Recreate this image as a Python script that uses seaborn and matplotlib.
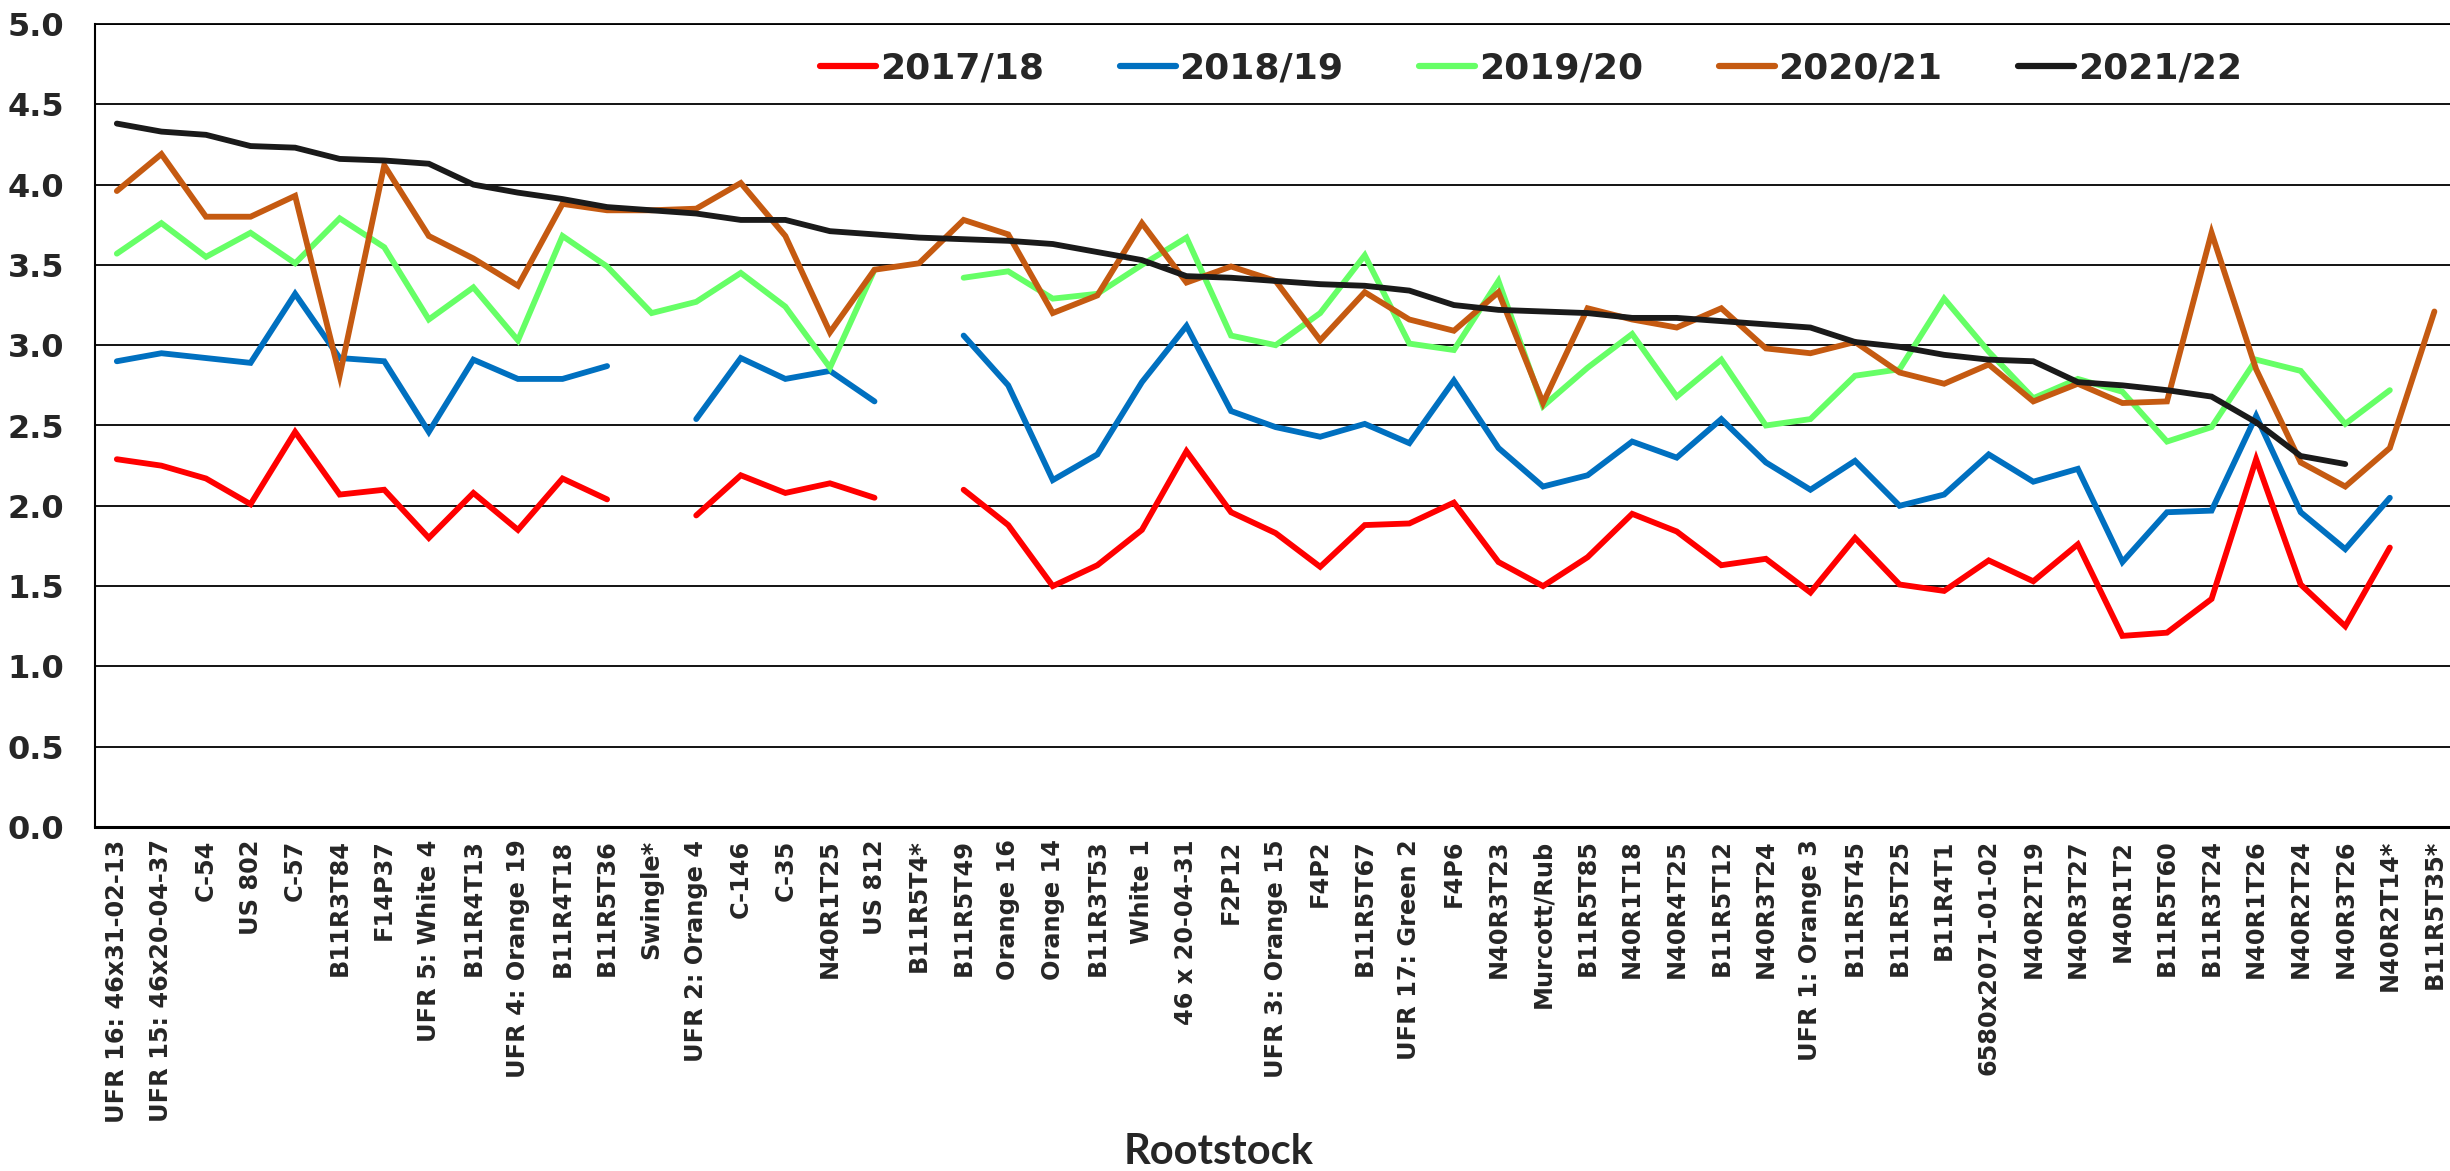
import numpy as np
import pandas as pd
import matplotlib
matplotlib.use("Agg")
import matplotlib.pyplot as plt
import seaborn as sns

nan = np.nan

rootstocks = [
    "UFR 16: 46x31-02-13", "UFR 15: 46x20-04-37", "C-54", "US 802", "C-57",
    "B11R3T84", "F14P37", "UFR 5: White 4", "B11R4T13", "UFR 4: Orange 19",
    "B11R4T18", "B11R5T36", "Swingle*", "UFR 2: Orange 4", "C-146", "C-35",
    "N40R1T25", "US 812", "B11R5T4*", "B11R5T49", "Orange 16", "Orange 14",
    "B11R3T53", "White 1", "46 x 20-04-31", "F2P12", "UFR 3: Orange 15", "F4P2",
    "B11R5T67", "UFR 17: Green 2", "F4P6", "N40R3T23", "Murcott/Rub", "B11R5T85",
    "N40R1T18", "N40R4T25", "B11R5T12", "N40R3T24", "UFR 1: Orange 3", "B11R5T45",
    "B11R5T25", "B11R4T1", "6580x2071-01-02", "N40R2T19", "N40R3T27", "N40R1T2",
    "B11R5T60", "B11R3T24", "N40R1T26", "N40R2T24", "N40R3T26", "N40R2T14*",
    "B11R5T35*",
]

s2017_18 = [2.29, 2.25, 2.17, 2.01, 2.46, 2.07, 2.10, 1.80, 2.08, 1.85,
            2.17, 2.04, nan, 1.94, 2.19, 2.08, 2.14, 2.05, nan, 2.10,
            1.88, 1.50, 1.63, 1.85, 2.34, 1.96, 1.83, 1.62, 1.88, 1.89,
            2.02, 1.65, 1.50, 1.68, 1.95, 1.84, 1.63, 1.67, 1.46, 1.80,
            1.51, 1.47, 1.66, 1.53, 1.76, 1.19, 1.21, 1.42, 2.29, 1.51,
            1.25, 1.74, nan]
s2018_19 = [2.90, 2.95, 2.92, 2.89, 3.32, 2.92, 2.90, 2.46, 2.91, 2.79,
            2.79, 2.87, nan, 2.54, 2.92, 2.79, 2.84, 2.65, nan, 3.06,
            2.75, 2.16, 2.32, 2.77, 3.12, 2.59, 2.49, 2.43, 2.51, 2.39,
            2.78, 2.36, 2.12, 2.19, 2.40, 2.30, 2.54, 2.27, 2.10, 2.28,
            2.00, 2.07, 2.32, 2.15, 2.23, 1.65, 1.96, 1.97, 2.56, 1.96,
            1.73, 2.05, nan]
s2019_20 = [3.57, 3.76, 3.55, 3.70, 3.51, 3.79, 3.61, 3.16, 3.36, 3.03,
            3.68, 3.49, 3.20, 3.27, 3.45, 3.24, 2.86, 3.47, nan, 3.42,
            3.46, 3.29, 3.32, 3.50, 3.67, 3.06, 3.00, 3.20, 3.56, 3.01,
            2.97, 3.40, 2.62, 2.86, 3.07, 2.68, 2.91, 2.50, 2.54, 2.81,
            2.85, 3.29, 2.96, 2.67, 2.79, 2.71, 2.40, 2.49, 2.91, 2.84,
            2.51, 2.72, nan]
s2020_21 = [3.96, 4.19, 3.80, 3.80, 3.93, 2.81, 4.12, 3.68, 3.54, 3.37,
            3.88, 3.84, 3.84, 3.85, 4.01, 3.68, 3.08, 3.47, 3.51, 3.78,
            3.69, 3.20, 3.31, 3.76, 3.39, 3.49, 3.40, 3.03, 3.33, 3.16,
            3.09, 3.33, 2.64, 3.23, 3.16, 3.11, 3.23, 2.98, 2.95, 3.02,
            2.83, 2.76, 2.88, 2.65, 2.76, 2.64, 2.65, 3.70, 2.85, 2.27,
            2.12, 2.36, 3.21]
s2021_22 = [4.38, 4.33, 4.31, 4.24, 4.23, 4.16, 4.15, 4.13, 4.00, 3.95,
            3.91, 3.86, 3.84, 3.82, 3.78, 3.78, 3.71, 3.69, 3.67, 3.66,
            3.65, 3.63, 3.58, 3.53, 3.43, 3.42, 3.40, 3.38, 3.37, 3.34,
            3.25, 3.22, 3.21, 3.20, 3.17, 3.17, 3.15, 3.13, 3.11, 3.02,
            2.99, 2.94, 2.91, 2.90, 2.77, 2.75, 2.72, 2.68, 2.52, 2.31,
            2.26, nan, nan]

seasons = ["2017/18", "2018/19", "2019/20", "2020/21", "2021/22"]
series = [s2017_18, s2018_19, s2019_20, s2020_21, s2021_22]
colors = ["#FF0000", "#0070C0", "#66FF66", "#C55A11", "#1A1A1A"]

# long-format table; split each season into contiguous segments so gaps stay gaps
rows = []
for season, vals in zip(seasons, series):
    seg = 0
    prev_nan = True
    for i, v in enumerate(vals):
        if np.isnan(v):
            prev_nan = True
            continue
        if prev_nan:
            seg += 1
            prev_nan = False
        rows.append({"idx": i, "value": v, "season": season, "seg": f"{season}-{seg}"})
df = pd.DataFrame(rows)

sns.set_theme(style="white")
plt.rcParams["font.family"] = ["DejaVu Sans"]

W, H = 2450, 1171
fig = plt.figure(figsize=(W / 100, H / 100), dpi=100)
left_px, right_px, top_px, bottom_px = 95, 2450, 24, 827
ax = fig.add_axes([left_px / W, 1 - bottom_px / H, (right_px - left_px) / W, (bottom_px - top_px) / H])

sns.lineplot(data=df, x="idx", y="value", hue="season", units="seg", estimator=None,
             hue_order=seasons, palette=dict(zip(seasons, colors)), linewidth=4.2,
             sort=True, ax=ax, legend=True)
for ln in ax.lines:
    ln.set_solid_capstyle("round")
    ln.set_solid_joinstyle("miter")

ax.set_ylim(0, 5.0)
ax.set_xlim(-0.49, 52.35)
ax.set_yticks(np.arange(0, 5.01, 0.5))
ax.set_yticklabels([f"{v:.1f}" for v in np.arange(0, 5.01, 0.5)], fontsize=23, fontweight="bold")
ax.set_xticks(range(len(rootstocks)))
ax.set_xticklabels(rootstocks, rotation=90, fontsize=17.3, fontweight="bold")
ax.tick_params(axis="y", length=0, pad=22)
ax.tick_params(axis="x", length=0, pad=9)
ax.yaxis.grid(True, color="black", linewidth=1.3)
ax.xaxis.grid(False)
ax.set_axisbelow(True)
for s in ["left", "bottom", "top"]:
    ax.spines[s].set_visible(True)
    ax.spines[s].set_color("black")
ax.spines["left"].set_linewidth(1.5)
ax.spines["bottom"].set_linewidth(2.2)
ax.spines["top"].set_linewidth(1.3)
ax.spines["right"].set_visible(False)

ax.set_ylabel("")
ax.set_xlabel("")
fig.text(1219 / W, 1 - 1152 / H, "Rootstock", fontsize=30, fontweight="bold",
         family=["Lato", "DejaVu Sans"], ha="center", va="center")

handles, labels = ax.get_legend_handles_labels()
leg = ax.legend(handles, labels, ncol=5, frameon=False, loc="center",
                bbox_to_anchor=((1531 - left_px) / (right_px - left_px), 1 - (69 - top_px) / (bottom_px - top_px)),
                prop={"weight": "bold", "size": 26}, handlelength=1.55, handletextpad=0.1,
                columnspacing=2.1)
for h in leg.legend_handles:
    h.set_linewidth(4.5)

fig.savefig("out.png", dpi=100)
